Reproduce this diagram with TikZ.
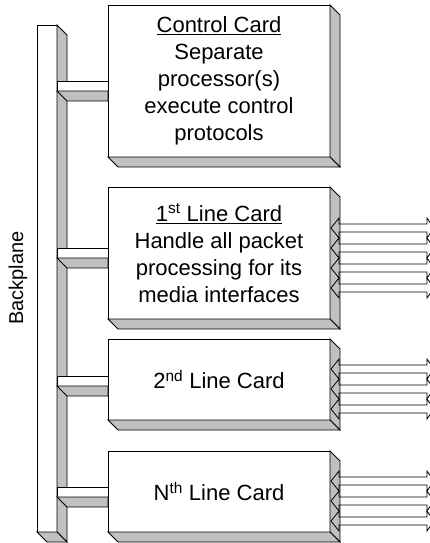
\documentclass[tikz,border=0pt]{standalone}
\usepackage{fontspec}
\setmainfont{Liberation Sans}
\usetikzlibrary{positioning,calc}
\definecolor{facegray}{RGB}{192,192,192}

\begin{document}
\begin{tikzpicture}[
  x=1pt, y=-1pt,
  font=\fontsize{22}{27}\selectfont,
  line width=0.8pt,
  card/.style={draw, fill=white, outer sep=0pt, inner sep=0pt, align=center, minimum width=222pt},
  plane/.style={draw, fill=white, outer sep=0pt, inner sep=0pt, minimum width=20pt, minimum height=507pt},
  face/.style={draw, fill=facegray},
  stub/.style={draw, fill=white},
  port/.style={draw, line join=miter},
  tag/.style={font=\fontsize{20}{24}\selectfont, rotate=90, inner sep=0pt}
]
\useasboundingbox (0,0) rectangle (430,543);

\node[plane] (bp) at (47,278.5) {};
\draw[face] (bp.north east) -- ++(10,10) -- ($(bp.south east)+(10,10)$) -- (bp.south east) -- cycle;
\draw[face] (bp.south west) -- (bp.south east) -- ++(10,10) -- ($(bp.south west)+(10,10)$) -- cycle;

\node[card, minimum height=152pt] (ctrl) at (219,81)
  {\underline{Control Card}\\Separate\\processor(s)\\execute control\\protocols};
\node[card, minimum height=132pt, below=30pt of ctrl] (lc1)
  {\underline{1\textsuperscript{st} Line Card}\\Handle all packet\\processing for its\\media interfaces};
\node[card, minimum height=81pt, below=20pt of lc1] (lc2) {2\textsuperscript{nd} Line Card};
\node[card, minimum height=81pt, below=31pt of lc2] (lcn) {N\textsuperscript{th} Line Card};

\foreach \c in {ctrl,lc1,lc2,lcn} {
  \draw[face] (\c.north east) -- ++(10,10) -- ($(\c.south east)+(10,10)$) -- (\c.south east) -- cycle;
  \draw[face] (\c.south west) -- (\c.south east) -- ++(10,10) -- ($(\c.south west)+(10,10)$) -- cycle;
}

\foreach \c/\y in {ctrl/81,lc1/248,lc2/376,lcn/487} {
  \coordinate (st) at (0,\y);
  \draw[stub] (bp.east |- st) rectangle ($(\c.west |- st)+(0,10)$);
  \draw[face] ($(bp.east |- st)+(0,10)$) -- ($(\c.west |- st)+(0,10)$) -- ++(0,10) -- ($(bp.east |- st)+(10,20)$) -- cycle;
}

\foreach \c/\t in {lc1/-29,lc1/-9,lc1/11,lc1/31,lc2/-14.5,lc2/5.5,lc2/25.5,lcn/-14.5,lcn/5.5,lcn/25.5}
  \draw[port] ($(\c.east)+(1,\t+4)$) -- ++(8,-10) -- ++(0,6) -- ++(88,0) -- ++(0,-6) -- ++(7,10)
    -- ++(-7,10) -- ++(0,-6) -- ++(-88,0) -- ++(0,6) -- cycle;

\node[tag] (bplabel) at (18,278) {Backplane};

\end{tikzpicture}
\end{document}
